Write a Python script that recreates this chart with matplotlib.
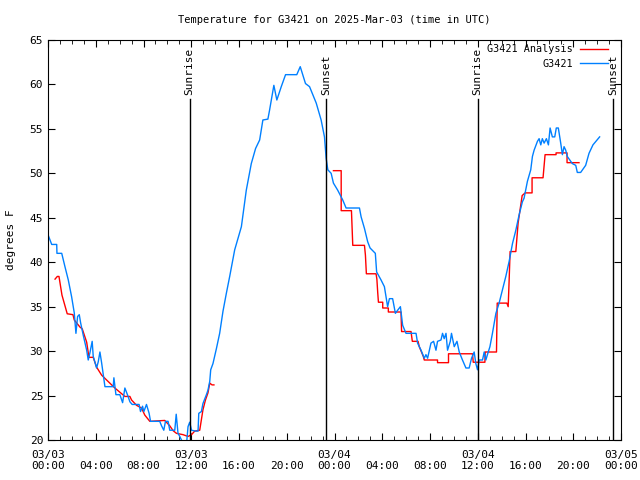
import numpy as np
import matplotlib
matplotlib.use("Agg")
import matplotlib.pyplot as plt
from matplotlib.ticker import MultipleLocator

# hours since 2025-03-03 00:00 UTC
obs_hours = [0.00, 0.31, 0.73, 0.75, 1.15, 1.42, 1.70, 1.98, 2.20, 2.34, 2.48, 2.62, 2.73, 2.95,
             3.24, 3.37, 3.51, 3.70, 3.79, 4.07, 4.21, 4.35, 4.49, 4.77, 5.46, 5.52, 5.69, 6.02,
             6.25, 6.44, 6.71, 6.86, 7.05, 7.63, 7.75, 7.92, 8.03, 8.25, 8.47, 8.59, 9.36, 9.51,
             9.70, 9.84, 10.06, 10.20, 10.62, 10.74, 10.89, 11.04, 11.18, 11.37, 11.62, 11.73,
             11.87, 12.02, 12.37, 12.57, 12.63, 12.85, 12.98, 13.27, 13.40, 13.55, 13.63, 13.82,
             14.11, 14.38, 14.66, 14.94, 15.22, 15.64, 16.20, 16.61, 17.03, 17.39, 17.73, 18.00,
             18.42, 18.56, 18.92, 19.17, 19.54, 19.90, 20.84, 21.13, 21.57, 21.91, 22.47, 22.88,
             23.16, 23.30, 23.44, 23.72, 23.91, 24.27, 24.69, 24.97, 26.09, 26.23, 26.51, 26.78,
             26.98, 27.42, 27.53, 27.90, 28.18, 28.32, 28.45, 28.60, 28.87, 29.10, 29.29, 29.52,
             29.71, 29.99, 30.83, 30.96, 31.25, 31.52, 31.66, 31.80, 32.08, 32.30, 32.50, 32.63,
             32.92, 33.05, 33.19, 33.34, 33.47, 33.70, 33.80, 34.03, 34.26, 34.45, 34.72, 35.01,
             35.28, 35.48, 35.70, 35.84, 35.98, 36.12, 36.40, 36.54, 36.68, 36.81, 37.02, 37.23,
             37.52, 37.79, 38.07, 38.35, 38.63, 38.91, 39.19, 39.46, 39.74, 39.88, 40.16, 40.44,
             40.58, 40.72, 41.00, 41.14, 41.28, 41.41, 41.56, 41.75, 41.92, 42.06, 42.25, 42.45,
             42.58, 42.75, 42.95, 43.09, 43.23, 43.37, 43.50, 43.92, 44.21, 44.34, 44.62, 45.04,
             45.32, 45.65, 46.21]
obs_temp = [43.1, 42.0, 42.0, 41.0, 41.0, 39.5, 38.0, 36.1, 34.3, 32.0, 33.9, 34.1, 33.2, 31.8,
            30.1, 29.0, 29.8, 31.1, 29.4, 28.1, 28.8, 29.9, 28.7, 26.0, 26.0, 27.0, 25.1, 25.1,
            24.2, 25.85, 24.9, 24.3, 24.0, 24.0, 23.2, 23.8, 23.2, 24.0, 23.0, 22.1, 22.1, 21.6,
            21.1, 22.1, 22.1, 21.1, 21.1, 22.9, 20.75, 20.4, 20.0, 19.5, 19.8, 21.5,
            22.0, 21.1, 21.0, 21.0, 23.0, 23.2, 24.1, 25.1, 25.6, 26.6, 27.9, 28.6,
            30.3, 32.0, 34.5, 36.5, 38.4, 41.4, 44.0, 48.1, 51.1, 52.8, 53.75, 56.0,
            56.1, 57.1, 59.9, 58.25, 59.75, 61.1, 61.1, 62.0, 60.1, 59.75, 57.9, 56.0,
            54.1, 51.7, 50.4, 50.0, 48.9, 48.1, 47.0, 46.1, 46.1, 45.1, 43.8, 42.3,
            41.6, 41.0, 38.9, 38.0, 37.25, 36.1, 35.0, 35.9, 35.9, 34.25, 34.6, 35.0,
            32.9, 32.0, 32.0, 30.9, 30.1, 29.2, 29.6, 29.2, 30.9, 31.1, 30.1, 31.1,
            31.25, 32.0, 31.4, 32.0, 30.1, 31.1, 32.0, 30.5, 31.1, 29.9, 29.0, 28.1,
            28.1, 29.2, 29.9, 28.6, 27.9, 29.0, 29.0, 29.9, 29.0, 29.6, 30.5, 32.0,
            34.25, 35.4, 36.9, 38.4, 40.1, 42.1, 43.6, 45.3, 46.8, 47.2, 49.1, 50.4,
            51.9, 52.6, 53.6, 53.9, 53.2, 53.9, 53.4, 53.9, 53.2, 55.1, 54.1, 54.1,
            55.1, 55.1, 53.4, 52.1, 53.0, 52.6, 51.9, 51.1, 50.9, 50.1, 50.1, 50.9,
            52.25, 53.2, 54.1]

ana_hours = [0.59, 0.78, 0.92, 1.17, 1.61, 2.09, 2.20, 2.68, 2.87, 3.24, 3.43, 3.79, 4.07, 4.49,
             4.91, 5.60, 6.44, 6.86, 7.00, 7.42, 7.83, 8.11, 8.53, 9.78, 10.20, 10.48, 10.76,
             11.31, 11.73, 12.02, 12.29, 12.71, 12.98, 13.19, 13.40, 13.55, 13.74, 13.90,
             18.0,
             23.91, 24.56, 24.56, 25.42, 25.53, 26.51, 26.59, 26.67, 27.48, 27.55, 27.62, 27.68,
             28.04, 28.04, 28.51, 28.51, 29.57, 29.62, 30.41, 30.52, 31.00, 31.10, 31.44, 31.52,
             32.63, 32.63, 33.55, 33.55, 35.56, 35.62, 36.60, 36.62, 37.57, 37.63, 38.44, 38.55,
             38.63, 38.71, 39.19, 39.38, 39.72, 39.97, 40.55, 40.55, 41.47, 41.64, 42.56, 42.56,
             43.48, 43.48, 44.48]
ana_temp = [38.1, 38.4, 38.4, 36.3, 34.2, 34.1, 33.5, 32.7, 32.5, 31.0, 29.3, 29.3, 28.2, 27.3,
            26.75, 25.85, 24.9, 24.9, 24.5, 23.9, 23.6, 22.8, 22.1, 22.2, 21.6, 21.05, 20.75,
            20.6, 20.4, 20.6, 21.0, 21.1, 23.4, 24.5, 25.3, 26.4, 26.2, 26.2,
            np.nan,
            50.3, 50.3, 45.8, 45.8, 41.9, 41.9, 40.8, 38.7, 38.7, 38.1, 36.6, 35.5,
            35.5, 34.85, 34.85, 34.4, 34.4, 32.2, 32.2, 31.1, 31.1, 30.5, 29.4, 29.0,
            29.0, 28.7, 28.7, 29.7, 29.7, 28.75, 28.75, 29.9, 29.9, 35.4, 35.4, 35.0,
            38.0, 41.2, 41.2, 44.4, 47.5, 47.8, 47.8, 49.5, 49.5, 52.1, 52.1, 52.3,
            52.3, 51.2, 51.2]

sun_hours = [11.87, 23.30, 35.98, 47.32]
sun_labels = ["Sunrise", "Sunset", "Sunrise", "Sunset"]

tick_hours = list(range(0, 49, 4))
tick_labels = ["03/03\n00:00", "\n04:00", "\n08:00", "03/03\n12:00", "\n16:00", "\n20:00",
               "03/04\n00:00", "\n04:00", "\n08:00", "03/04\n12:00", "\n16:00", "\n20:00",
               "03/05\n00:00"]

plt.rcParams['font.family'] = ['DejaVu Sans Mono']
plt.rcParams['font.size'] = 8

fig = plt.figure(figsize=(6.4, 4.8), dpi=100)
ax = fig.add_axes([48 / 640, 40 / 480, 573 / 640, 400 / 480])

ax.plot(ana_hours, ana_temp, color='#ff0000', lw=1.0, label='G3421 Analysis')
ax.plot(obs_hours, obs_temp, color='#0080ff', lw=1.0, label='G3421')

line_top = (58.4 - 20) / 45
for h, lab in zip(sun_hours, sun_labels):
    ax.axvline(h, ymin=0, ymax=line_top, color='black', lw=1.0)
    ax.text(h, 58.8, lab, rotation=90, ha='center', va='bottom', fontsize=8)

ax.set_xlim(0, 48)
ax.set_ylim(20, 65)
ax.set_xticks(tick_hours)
ax.set_xticklabels(tick_labels)
ax.xaxis.set_minor_locator(MultipleLocator(1))
ax.yaxis.set_major_locator(MultipleLocator(5))
ax.tick_params(which='both', direction='in', top=True, right=True)
ax.tick_params(which='major', length=5)
ax.tick_params(which='minor', length=3)
ax.tick_params(axis='x', pad=7)

ax.set_ylabel('degrees F')
ax.yaxis.set_label_coords(-0.056, 0.5)
ax.set_title('Temperature for G3421 on 2025-Mar-03 (time in UTC)', fontsize=7.5, pad=12)

leg = ax.legend(loc='upper right', frameon=False, markerfirst=False, handlelength=2.8,
                borderaxespad=0.1, borderpad=0.3, labelspacing=0.45, handletextpad=0.7,
                fontsize=7.3, bbox_to_anchor=(0.985, 1.0))
for t in leg.get_texts():
    t.set_ha('right')
leg._legend_box.align = 'right'

fig.savefig('out.png', dpi=100, facecolor='w')
